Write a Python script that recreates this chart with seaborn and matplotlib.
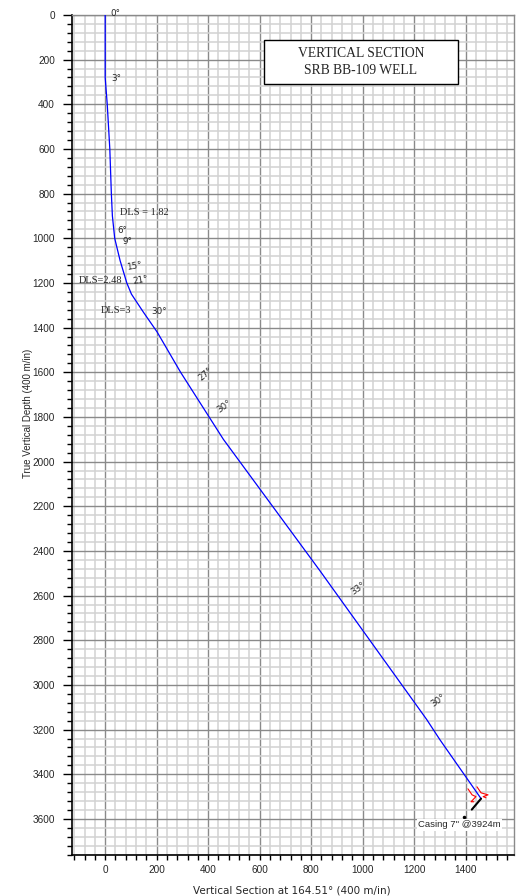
import matplotlib
matplotlib.use("Agg")
import matplotlib.pyplot as plt
from matplotlib.patches import Rectangle
from matplotlib.ticker import MultipleLocator, FixedLocator
import numpy as np
import pandas as pd
import seaborn as sns

# ---- data ----
tvd = [0, 280, 400, 600, 800, 900, 1000, 1100, 1200, 1250, 1330, 1420, 1600,
       1900, 2490, 3155, 3245, 3509]
vsec = [0, 0, 8, 18, 24, 28, 37, 58, 84, 102, 148, 202, 293,
        459, 835, 1249, 1300, 1460]

angle_text = ["0°", "3°", "6°", "9°", "15°", "21°", "30°", "27°", "30°", "33°", "30°"]
angle_x = [19, 23, 49, 67, 84, 107, 181, 369, 439, 959, 1269]
angle_y = [-6, 284, 963, 1015, 1129, 1192, 1326, 1632, 1774, 2587, 3091]
angle_rot = [0, 0, 0, 0, 10, 10, 0, 40, 35, 35, 35]

dls_text = ["DLS = 1.82", "DLS=2.48", "DLS=3"]
dls_x = [58, -104, -19]
dls_y = [885, 1187, 1323]

shoe_left_x = [1409, 1425, 1440, 1421, 1432]
shoe_left_y = [3465, 3492, 3500, 3523, 3523]
shoe_right_x = [1444, 1460, 1487, 1468, 1479]
shoe_right_y = [3456, 3483, 3492, 3500, 3505]
casing_x = [1460, 1424]
casing_y = [3509, 3558]
casing_dot = (1394, 3590)
casing_label = 'Casing 7" @3924m'
casing_label_pos = (1215, 3626)

title_lines = "VERTICAL SECTION\nSRB BB-109 WELL"
xlabel = "Vertical Section at 164.51° (400 m/in)"
ylabel = "True Vertical Depth (400 m/in)"
xmajor = [0, 200, 400, 600, 800, 1000, 1200, 1400]
ymajor = list(range(0, 3601, 200))

# ---- plot ----
sns.set_theme(style="white")
plt.rcParams['font.family'] = ['Liberation Sans', 'DejaVu Sans']

fig = plt.figure(figsize=(5.2, 8.96), dpi=100)
ax = fig.add_axes([0.1379, 0.0461, 0.8506, 0.9372])

df = pd.DataFrame({"tvd": tvd, "vs": vsec})
sns.lineplot(data=df, x="vs", y="tvd", sort=False, estimator=None,
             color="#0000ff", linewidth=0.9, ax=ax, zorder=3)

ax.set_xlim(-130, 1588)
ax.set_ylim(3760, 0)

ax.xaxis.set_major_locator(FixedLocator(xmajor))
ax.xaxis.set_minor_locator(MultipleLocator(40))
ax.yaxis.set_major_locator(FixedLocator(ymajor))
ax.yaxis.set_minor_locator(MultipleLocator(40))

ax.grid(which="minor", color="#d2d2d2", linewidth=1.1, zorder=0)
ax.grid(which="major", color="#8a8a8a", linewidth=1.0, zorder=1)
ax.set_axisbelow(True)

for s in ["top", "right"]:
    ax.spines[s].set_color("#8a8a8a")
    ax.spines[s].set_linewidth(1.0)
for s in ["left", "bottom"]:
    ax.spines[s].set_color("black")
    ax.spines[s].set_linewidth(1.2)

ax.tick_params(axis="y", which="major", direction="out", length=6.5, width=1.0,
               color="black", labelsize=7.2, pad=5.5, left=True)
ax.tick_params(axis="y", which="minor", direction="out", length=3.6, width=1.0,
               color="black", left=True)
ax.tick_params(axis="x", which="both", direction="out", length=3.3, width=1.0,
               color="black", labelsize=7.2, pad=4.3, bottom=True)
ax.set_xticklabels([str(v) for v in xmajor])
ax.set_yticklabels([str(v) for v in ymajor])

ax.set_xlabel(xlabel, fontsize=7.5, family=["DejaVu Sans"])
ax.set_ylabel(ylabel, fontsize=7)
ax.xaxis.set_label_coords(0.498, -0.037)
ax.yaxis.set_label_coords(-0.0875, 0.525)

# angle annotations
for t, x, y, r in zip(angle_text, angle_x, angle_y, angle_rot):
    ax.text(x, y, t, fontsize=6.3, rotation=r, ha="left", va="center",
            zorder=4, rotation_mode="anchor", family=["DejaVu Sans"])

# DLS annotations
for t, x, y in zip(dls_text, dls_x, dls_y):
    ax.text(x, y, t, fontsize=7.5, family=["Liberation Serif", "DejaVu Serif"],
            ha="left", va="center", zorder=4)

# casing symbol
ax.plot(shoe_left_x, shoe_left_y, color="red", linewidth=0.8, zorder=4)
ax.plot(shoe_right_x, shoe_right_y, color="red", linewidth=0.8, zorder=4)
ax.plot(casing_x, casing_y, color="black", linewidth=1.5, zorder=4)
ax.plot([casing_dot[0]], [casing_dot[1]], marker="o", markersize=1.5, color="black", zorder=4)
ax.text(casing_label_pos[0], casing_label_pos[1], casing_label, fontsize=6.8,
        ha="left", va="center", zorder=5,
        bbox=dict(facecolor="white", edgecolor="none", pad=1.0))

# title box
ax.add_patch(Rectangle((0.435, 0.918), 0.438, 0.052, transform=ax.transAxes,
                       facecolor="white", edgecolor="black", linewidth=1.0, zorder=5))
ax.text(0.654, 0.944, title_lines, transform=ax.transAxes, ha="center", va="center",
        fontsize=9.8, family=["Liberation Serif", "DejaVu Serif"], linespacing=1.45, zorder=6)

fig.savefig("out.png", dpi=100)
